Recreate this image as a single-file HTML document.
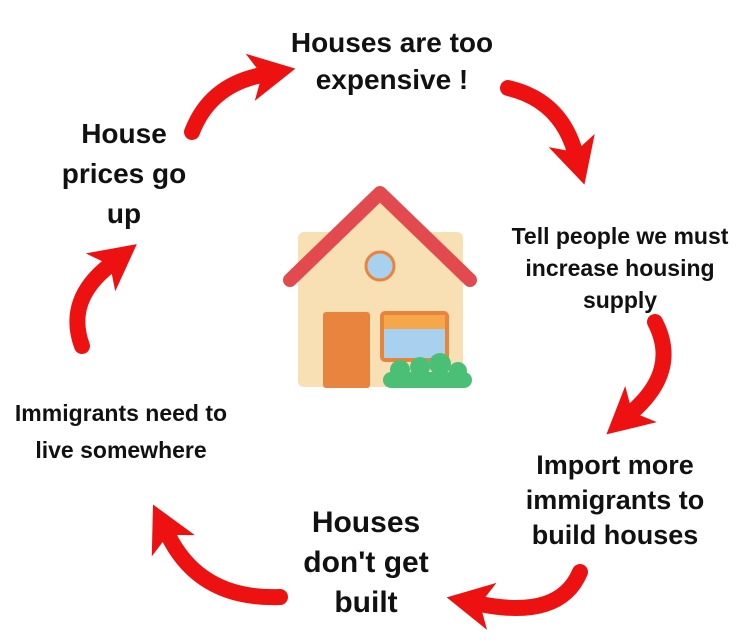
<!DOCTYPE html>
<html><head><style>
body{margin:0;background:#fff;}
svg{display:block}
text{font-family:"Liberation Sans",sans-serif;font-weight:bold;fill:#111;text-anchor:middle}
</style></head><body>
<svg width="743" height="642" viewBox="0 0 743 642">
<defs>
<marker id="h" markerUnits="userSpaceOnUse" markerWidth="60" markerHeight="60" refX="12" refY="28" orient="auto">
<path d="M0,4 L46,28 L0,52 L12,28 Z" fill="#ee1111"/>
</marker>
</defs>
<g fill="none" stroke="#ee1111" stroke-width="16" stroke-linecap="round" marker-end="url(#h)">
<path d="M192,132 Q210,85 262,75"/>
<path d="M508,88 Q560,100 575,152"/>
<path d="M655,322 Q680,370 632,412"/>
<path d="M580,572 Q560,620 480,604"/>
<path d="M280,597 Q200,600 168,535"/>
<path d="M82,346 Q65,300 110,265"/>
</g>
<rect x="298" y="232" width="165" height="155" rx="6" fill="#f8e0b4"/>
<polygon points="380,198 298,270 298,300 463,300 463,270" fill="#f8e0b4"/>
<path d="M290,280 L380,193 L470,280" fill="none" stroke="#e34a4f" stroke-width="14" stroke-linecap="round" stroke-linejoin="round"/>
<circle cx="380" cy="266" r="14" fill="#a8d0ef" stroke="#e9843f" stroke-width="3"/>
<rect x="323" y="312" width="47" height="76" rx="3" fill="#e9843f"/>
<rect x="382" y="313" width="65" height="47" rx="3" fill="#a8d0ef" stroke="#e9843f" stroke-width="4"/>
<rect x="384" y="315" width="61" height="14" fill="#f5a74a"/>
<g fill="#4cbf77">
<rect x="383" y="372" width="89" height="16" rx="8"/>
<circle cx="400" cy="370" r="10"/><circle cx="420" cy="367" r="10"/><circle cx="440" cy="364" r="11"/><circle cx="458" cy="371" r="9"/>
</g>
<text x="392" y="52" font-size="28">Houses are too</text>
<text x="392" y="89" font-size="28">expensive !</text>
<text x="124" y="143" font-size="28">House</text>
<text x="124" y="183" font-size="28">prices go</text>
<text x="124" y="223" font-size="28">up</text>
<text x="620" y="244" font-size="23">Tell people we must</text>
<text x="620" y="276" font-size="23">increase housing</text>
<text x="620" y="308" font-size="23">supply</text>
<text x="615" y="474" font-size="27">Import more</text>
<text x="615" y="509" font-size="27">immigrants to</text>
<text x="615" y="544" font-size="27">build houses</text>
<text x="366" y="532" font-size="30">Houses</text>
<text x="366" y="572" font-size="30">don't get</text>
<text x="366" y="612" font-size="30">built</text>
<text x="121" y="421" font-size="23">Immigrants need to</text>
<text x="121" y="458" font-size="23">live somewhere</text>
</svg>
</body></html>
